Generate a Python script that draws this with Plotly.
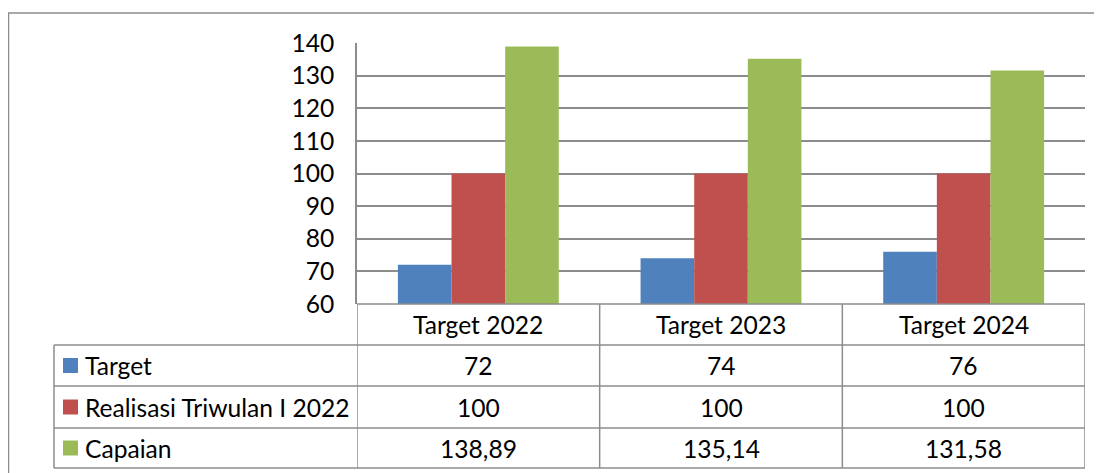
import plotly.graph_objects as go

categories = ["Target 2022", "Target 2023", "Target 2024"]
target = [72, 74, 76]
realisasi = [100, 100, 100]
capaian = [138.89, 135.14, 131.58]
series_names = ["Target", "Realisasi Triwulan I 2022", "Capaian"]
colors = ["#4F81BD", "#C0504D", "#9BBB59"]

font_name = "Lato"
font_size = 24.6
grid = "#8c8c8c"

# the page body adds an 8px margin, so the figure is 8px smaller
OFF = 8
W, H = 1102 - OFF, 473 - OFF
ml, mr, mt, mb = 357 - OFF, 17, 43 - OFF, 169
plot_w = W - ml - mr
plot_h = H - mt - mb


def px_to_x(px):
    return (px - OFF - ml) / plot_w


def px_to_y(py):
    return (H - mb - (py - OFF)) / plot_h


fig = go.Figure()
for name, vals, col in zip(series_names, [target, realisasi, capaian], colors):
    fig.add_trace(go.Bar(x=categories, y=vals, name=name, marker_color=col,
                         marker_line_width=0))

# data table under the chart
row_tops = [304, 345, 386, 428, 468]
yb = [px_to_y(v) for v in row_tops]
left = px_to_x(54)
line = dict(color=grid, width=1.5)
n = len(categories)

fig.add_shape(type="line", xref="x", yref="paper", x0=-0.5, x1=n - 0.5,
              y0=yb[0], y1=yb[0], line=line)
for y in yb[1:]:
    fig.add_shape(type="line", xref="paper", yref="paper", x0=left, x1=1,
                  y0=y, y1=y, line=line)
for i in range(n + 1):
    fig.add_shape(type="line", xref="x", yref="paper", x0=i - 0.5, x1=i - 0.5,
                  y0=yb[-1], y1=yb[0], line=line)
fig.add_shape(type="line", xref="paper", yref="paper", x0=left, x1=left,
              y0=yb[1], y1=yb[-1], line=line)

txt_font = dict(family=font_name, size=font_size, color="black")

# header row
for i, c in enumerate(categories):
    fig.add_annotation(x=i, y=(yb[0] + yb[1]) / 2, xref="x", yref="paper",
                       text=c, showarrow=False, yanchor="middle", font=txt_font)

# value rows
for r, (name, vals, col) in enumerate(zip(series_names, [target, realisasi, capaian], colors)):
    yc = (yb[r + 1] + yb[r + 2]) / 2
    key_h = 15 / plot_h
    fig.add_shape(type="rect", xref="paper", yref="paper",
                  x0=px_to_x(63), x1=px_to_x(78), y0=yc - key_h / 2, y1=yc + key_h / 2,
                  fillcolor=col, line_width=0)
    fig.add_annotation(x=px_to_x(83), y=yc, xref="paper", yref="paper",
                       text=name, showarrow=False, xanchor="left", yanchor="middle",
                       font=txt_font)
    for i, v in enumerate(vals):
        txt = ("%g" % v).replace(".", ",")
        fig.add_annotation(x=i, y=yc, xref="x", yref="paper", text=txt,
                           showarrow=False, yanchor="middle", font=txt_font)

# outer chart border
fig.add_shape(type="rect", xref="paper", yref="paper",
              x0=px_to_x(8.5), x1=px_to_x(1120), y0=px_to_y(490), y1=px_to_y(13),
              line=dict(color=grid, width=1.5))

fig.update_layout(
    width=W, height=H,
    margin=dict(l=ml, r=mr, t=mt, b=mb),
    barmode="group", bargap=0.337, bargroupgap=0,
    showlegend=False,
    plot_bgcolor="white", paper_bgcolor="white",
    font=txt_font,
)
fig.update_xaxes(showticklabels=False, showgrid=False, range=[-0.5, n - 0.5],
                 showline=False, zeroline=False)
fig.update_yaxes(range=[60, 140], dtick=10, showgrid=True, gridcolor=grid,
                 gridwidth=1.5, showline=True, linecolor=grid, linewidth=1.5,
                 zeroline=False, ticks="", ticklabelstandoff=16,
                 tickfont=txt_font)

fig.write_html("out.html")
